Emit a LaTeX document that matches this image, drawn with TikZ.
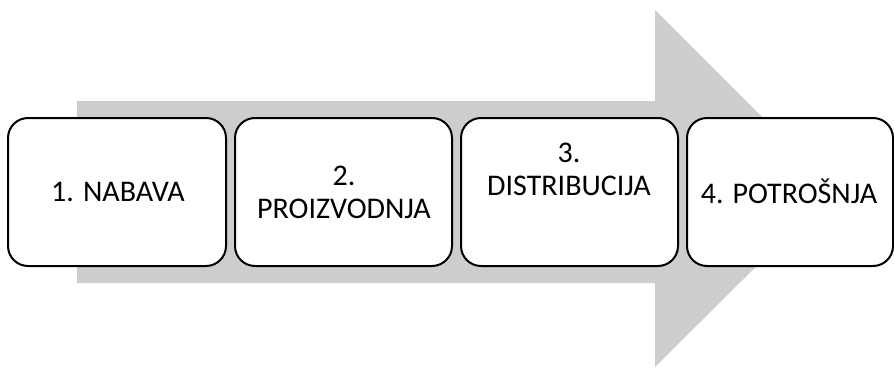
\documentclass[tikz,border=0pt]{standalone}
\usepackage{fontspec}
\setmainfont{Carlito}
\begin{document}
\begin{tikzpicture}[x=1pt,y=-1pt,
  stagebox/.style={draw=black,line width=2pt,fill=white,rounded corners=20pt},
  lbl/.style={font=\fontsize{30}{33}\selectfont,anchor=base,inner sep=0pt}]
\useasboundingbox (0,0) rectangle (894,369);
\definecolor{arrowgray}{RGB}{205,205,205}
\fill[arrowgray] (77,101) -- (655,101) -- (655,10) -- (834,189) -- (655,367) -- (655,283) -- (77,283) -- cycle;
\path[stagebox] (8,118) rectangle (226,266) coordinate (b1);
\path[stagebox] (235,118) rectangle (452,266) coordinate (b2);
\path[stagebox] (461,118) rectangle (678,266) coordinate (b3);
\path[stagebox] (687,118) rectangle (893,266) coordinate (b4);
\node[lbl] (t1) at (118,201.5) {1. NABAVA};
\node[lbl] (t2a) at (344,185) {2.};
\node[lbl] (t2b) at (344,218) {PROIZVODNJA};
\node[lbl] (t3a) at (569,162.5) {3.};
\node[lbl] (t3b) at (569,195.5) {DISTRIBUCIJA};
\node[lbl] (t4) at (789,203.5) {4. POTROŠNJA};
\end{tikzpicture}
\end{document}
